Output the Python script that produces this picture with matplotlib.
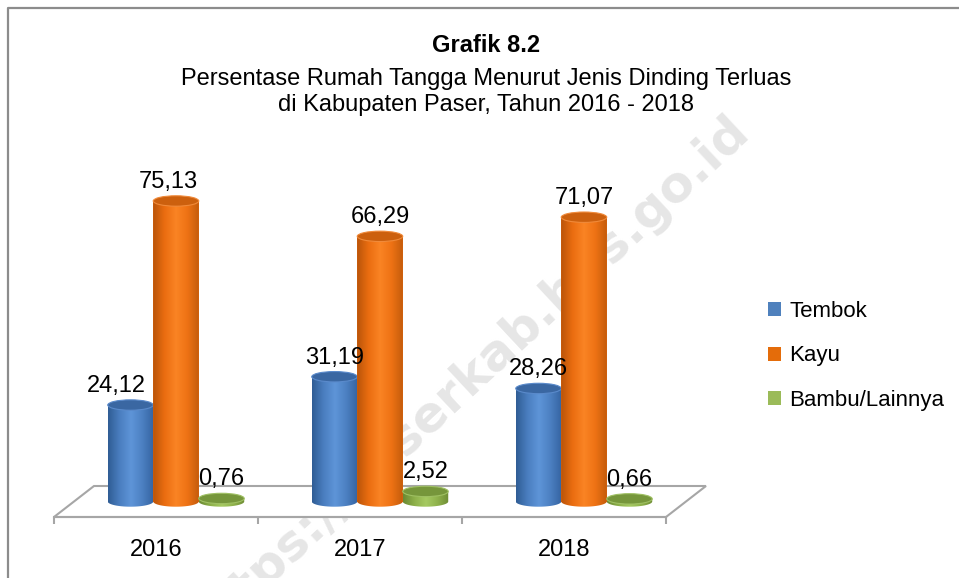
import numpy as np
import matplotlib
matplotlib.use("Agg")
import matplotlib.pyplot as plt
from matplotlib.patches import Ellipse, PathPatch, Patch, Polygon
from matplotlib.path import Path
from matplotlib.colors import LinearSegmentedColormap
from matplotlib.lines import Line2D

# ---------------- data ----------------
years = ["2016", "2017", "2018"]
series = ["Tembok", "Kayu", "Bambu/Lainnya"]
tembok = [24.12, 31.19, 28.26]
kayu = [75.13, 66.29, 71.07]
bambu = [0.76, 2.52, 0.66]
title_main = "Grafik 8.2"
title_sub = "Persentase Rumah Tangga Menurut Jenis Dinding Terluas\ndi Kabupaten Paser, Tahun 2016 - 2018"
watermark = "https://paserkab.bps.go.id"

# ---------------- style ----------------
plt.rcParams['font.family'] = ['Liberation Sans', 'DejaVu Sans']
FS = 17
legend_colors = ["#4F81BD", "#E46C0A", "#9BBB59"]
grad_colors = [
    ["#2F5C94", "#4A7EBF", "#5E95D8", "#4C80C2", "#3563A0"],
    ["#B9540A", "#EA6D10", "#FA8424", "#EE7214", "#C45C0C"],
    ["#6A8933", "#8DB04A", "#A6CA62", "#8FB24C", "#6E8C35"],
]
cap_colors = ["#3A67A2", "#CC600E", "#76963B"]
cap_edges = ["#5A8ACB", "#F08A3A", "#9FC063"]

bar_w = 0.223          # category units
cap_h = 2.6            # data units
depth_dx = 0.196       # floor depth (x, category units)
depth_dy = 7.75        # floor depth (y, data units)

fig = plt.figure(figsize=(9.59, 5.78), dpi=100)
ax = fig.add_axes([54 / 959, 48 / 578, 612 / 959, 390 / 578])
ax.patch.set_visible(False)

# watermark (behind bars)
ax.text(468 / 959, 1 - 378 / 578, watermark, transform=fig.transFigure,
        rotation=43, ha="center", va="center", fontsize=36, fontweight="bold",
        family="DejaVu Sans", color="#e6e6e6", zorder=0.2)

# floor
y_front = -depth_dy / 2
y_back = depth_dy / 2
floor = Polygon([(-0.5, y_front), (2.5, y_front), (2.5 + depth_dx, y_back),
                 (-0.5 + depth_dx, y_back)], closed=True,
                facecolor="white", edgecolor="#a6a6a6", lw=1.5, zorder=0.5,
                clip_on=False)
ax.add_patch(floor)


def cylinder(xc, v, k, z):
    x0, x1 = xc - bar_w / 2, xc + bar_w / 2
    bars = ax.bar(xc, v, width=bar_w, bottom=0, color=grad_colors[k][1],
                  linewidth=0, zorder=z)
    t = np.linspace(np.pi, 2 * np.pi, 60)
    bx = xc + bar_w / 2 * np.cos(t)
    by = cap_h / 2 * np.sin(t)
    verts = [(x0, v)] + list(zip(bx, by)) + [(x1, v), (x0, v)]
    codes = [Path.MOVETO] + [Path.LINETO] * (len(verts) - 2) + [Path.CLOSEPOLY]
    patch = PathPatch(Path(verts, codes), facecolor="none", edgecolor="none")
    ax.add_patch(patch)
    cmap = LinearSegmentedColormap.from_list("c%d" % k, grad_colors[k])
    grad = np.linspace(0, 1, 256).reshape(1, -1)
    im = ax.imshow(grad, cmap=cmap, extent=(x0, x1, -cap_h, v), aspect="auto",
                   interpolation="bilinear", zorder=z + 0.01)
    im.set_clip_path(patch)
    cap = Ellipse((xc, v), bar_w, cap_h, facecolor=cap_colors[k],
                  edgecolor=cap_edges[k], lw=0.8, zorder=z + 0.02)
    ax.add_patch(cap)
    return bars


values = [tembok, kayu, bambu]
label_dx_px = {(0, 0): -14, (0, 1): -8}
for i in range(len(years)):
    for k in range(len(series)):
        xc = i + (k - 1) * bar_w + depth_dx / 2
        v = values[k][i]
        cylinder(xc, v, k, z=2 + i * 0.1 + k * 0.03)
        ax.annotate(f"{v:.2f}".replace(".", ","), (xc, v + cap_h / 2),
                    xytext=(label_dx_px.get((i, k), 0) * 0.72, 2),
                    textcoords="offset points", ha="center", va="bottom",
                    fontsize=FS, zorder=5)

ax.set_xlim(-0.5, 2.5)
ax.set_ylim(-7.125, 90.375)

# axes: only bottom spine at floor front
for s in ["top", "right", "left"]:
    ax.spines[s].set_visible(False)
ax.spines["bottom"].set_position(("data", y_front))
ax.spines["bottom"].set_color("#a6a6a6")
ax.spines["bottom"].set_linewidth(1.5)
ax.spines["bottom"].set_zorder(0.6)
ax.set_yticks([])
ax.set_xticks(range(len(years)))
ax.set_xticklabels(years, fontsize=FS)
ax.tick_params(axis="x", which="major", length=0, pad=16)
ax.set_xticks([-0.5, 0.5, 1.5, 2.5], minor=True)
ax.tick_params(axis="x", which="minor", length=5, width=1.5, color="#a6a6a6")

# titles
fig.text(486 / 959, 1 - 45 / 578, title_main, ha="center", va="center",
         fontsize=FS, fontweight="bold")
fig.text(486 / 959, 1 - 92 / 578, title_sub, ha="center", va="center",
         fontsize=FS, linespacing=1.25)

# legend
handles = [Patch(facecolor=c, edgecolor="none") for c in legend_colors]
fig.legend(handles, series, loc="center left",
           bbox_to_anchor=(748 / 959, 1 - 356 / 578), frameon=False,
           fontsize=16, handlelength=0.6, handleheight=0.6, handletextpad=0.35,
           labelspacing=1.05)

# outer frame (top and left visible)
fig.add_artist(Line2D([7.5 / 959, 7.5 / 959, 1.0], [0.0, 1 - 7.5 / 578, 1 - 7.5 / 578],
                      transform=fig.transFigure, color="#8c8c8c", lw=1.6))

fig.savefig("out.png", dpi=100)
